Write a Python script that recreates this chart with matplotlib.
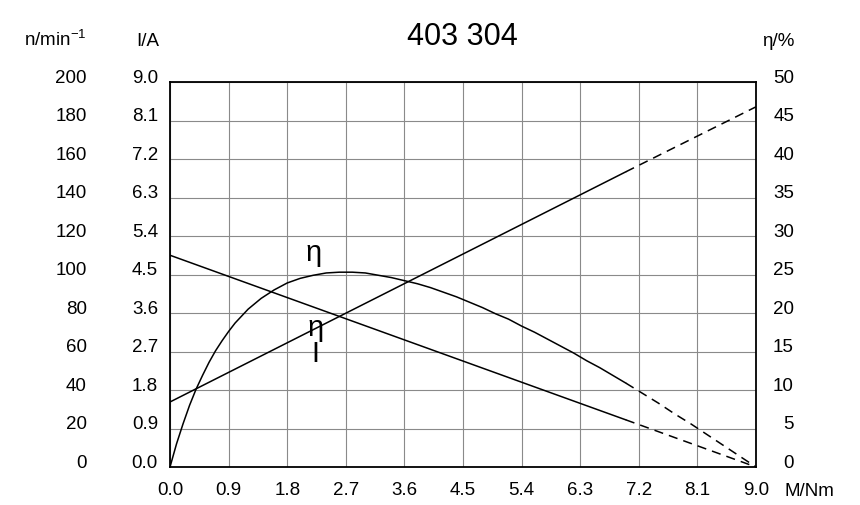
import matplotlib
matplotlib.use('Agg')
import matplotlib.pyplot as plt

plt.rcParams['font.family'] = ['Liberation Sans', 'DejaVu Sans']
plt.rcParams['mathtext.fontset'] = 'custom'
plt.rcParams['mathtext.rm'] = 'Liberation Sans'
plt.rcParams['mathtext.it'] = 'Liberation Sans:italic'
plt.rcParams['mathtext.bf'] = 'Liberation Sans:bold'

# ---------------- data ----------------
title = '403 304'
torque_ticks = [0.0, 0.9, 1.8, 2.7, 3.6, 4.5, 5.4, 6.3, 7.2, 8.1, 9.0]
current_ticks = [0.0, 0.9, 1.8, 2.7, 3.6, 4.5, 5.4, 6.3, 7.2, 8.1, 9.0]
speed_ticks = [0, 20, 40, 60, 80, 100, 120, 140, 160, 180, 200]
eff_ticks = [0, 5, 10, 15, 20, 25, 30, 35, 40, 45, 50]

# current I/A  (solid part, dashed extrapolation)
cur_M_solid = [0.0, 7.0]
cur_I_solid = [1.52, 6.90]
cur_M_dash = [7.0, 9.0]
cur_I_dash = [6.90, 8.42]

# speed n/min^-1
spd_M_solid = [0.0, 7.0]
spd_n_solid = [110.0, 24.5]
spd_M_dash = [7.0, 9.0]
spd_n_dash = [24.5, 0.0]

# efficiency eta/%
eff_M_solid = [0.0, 0.05, 0.1, 0.15, 0.2, 0.25, 0.3, 0.4, 0.5, 0.6, 0.7, 0.8, 0.9, 1.0,
               1.2, 1.4, 1.6, 1.8, 2.0, 2.2, 2.4, 2.6, 2.8, 3.0, 3.2, 3.4, 3.6, 3.8,
               4.0, 4.2, 4.4, 4.6, 4.8, 5.0, 5.2, 5.4, 5.6, 5.8, 6.0, 6.2, 6.4, 6.6,
               6.8, 7.0]
eff_solid = [0.0, 1.5, 3.0, 4.3, 5.6, 6.8, 8.0, 10.1, 11.9, 13.6, 15.1, 16.4, 17.6, 18.7,
             20.5, 21.9, 23.0, 23.9, 24.5, 24.9, 25.2, 25.3, 25.3, 25.2, 24.9, 24.6, 24.2, 23.8,
             23.3, 22.7, 22.1, 21.4, 20.7, 19.9, 19.2, 18.3, 17.5, 16.6, 15.7, 14.8, 13.8, 12.9,
             11.9, 10.9]
eff_M_dash = [7.0, 7.25, 7.5, 7.75, 8.0, 8.25, 8.5, 8.75, 9.0]
eff_dash = [10.9, 9.6, 8.3, 6.9, 5.6, 4.2, 2.8, 1.4, 0.0]

# ---------------- figure ----------------
W, H = 860, 506
fig = plt.figure(figsize=(W / 100, H / 100), dpi=100)
x0, x1, y0, y1 = 170, 756, 83, 468
ax = fig.add_axes([x0 / W, 1 - y1 / H, (x1 - x0) / W, (y1 - y0) / H])
ax_n = ax.twinx()
ax_e = ax.twinx()

ax.set_xlim(0, 9.0)
ax.set_ylim(0, 9.0)
ax_n.set_ylim(0, 200)
ax_e.set_ylim(0, 50)

fs = 13.5
ax.set_xticks(torque_ticks, [f'{v:.1f}' for v in torque_ticks], fontsize=fs)
ax.set_yticks(current_ticks, [f'{v:.1f}' for v in current_ticks], fontsize=fs, va='baseline')
ax_n.set_yticks(speed_ticks, [str(v) for v in speed_ticks], fontsize=fs, va='baseline')
ax_e.set_yticks(eff_ticks, [str(v) for v in eff_ticks], fontsize=fs, va='baseline', ha='right')

px = 72 / 100
ax.tick_params(axis='both', length=0)
ax.tick_params(axis='x', pad=14 * px)
ax.tick_params(axis='y', pad=12 * px)
ax_n.yaxis.set_ticks_position('left')
ax_n.tick_params(axis='y', length=0, pad=(x0 - 87) * px, left=True, labelleft=True,
                 right=False, labelright=False)
ax_e.tick_params(axis='y', length=0, pad=(794 - x1) * px)

for a in (ax_n, ax_e):
    for s in a.spines.values():
        s.set_visible(False)
for s in ax.spines.values():
    s.set_linewidth(1.3)
    s.set_color('black')

ax.grid(True, color='#8a8a8a', linewidth=0.8)
ax.set_axisbelow(True)

lw = 1.1
dash = (0, (6, 4))
kw = dict(color='black', lw=lw, solid_joinstyle='round', solid_capstyle='round')
ax.plot(cur_M_solid, cur_I_solid, **kw)
ax.plot(cur_M_dash, cur_I_dash, color='black', lw=lw, linestyle=dash)
ax_n.plot(spd_M_solid, spd_n_solid, **kw)
ax_n.plot(spd_M_dash, spd_n_dash, color='black', lw=lw, linestyle=dash)
ax_e.plot(eff_M_solid, eff_solid, **kw)
ax_e.plot(eff_M_dash, eff_dash, color='black', lw=lw, linestyle=dash)

# curve labels
ax.text(2.21, 5.02, 'η', fontsize=21, ha='center', va='center')
ax.text(2.23, 3.27, 'η', fontsize=21, ha='center', va='center')
ax.text(2.24, 2.66, 'I', fontsize=21, ha='center', va='center')

# headers
def fy(py):
    return 1 - py / H

fig.text(462 / W, fy(45), title, fontsize=22, ha='center', va='baseline')
fig.text(86 / W, fy(46), r'n/min$^{-1}$', fontsize=fs, ha='right', va='baseline')
fig.text(159 / W, fy(46), 'I/A', fontsize=fs, ha='right', va='baseline')
fig.text(794 / W, fy(46), 'η/%', fontsize=fs, ha='right', va='baseline')
fig.text(785 / W, fy(496), 'M/Nm', fontsize=fs, ha='left', va='baseline')

fig.savefig('out.png', dpi=100)
